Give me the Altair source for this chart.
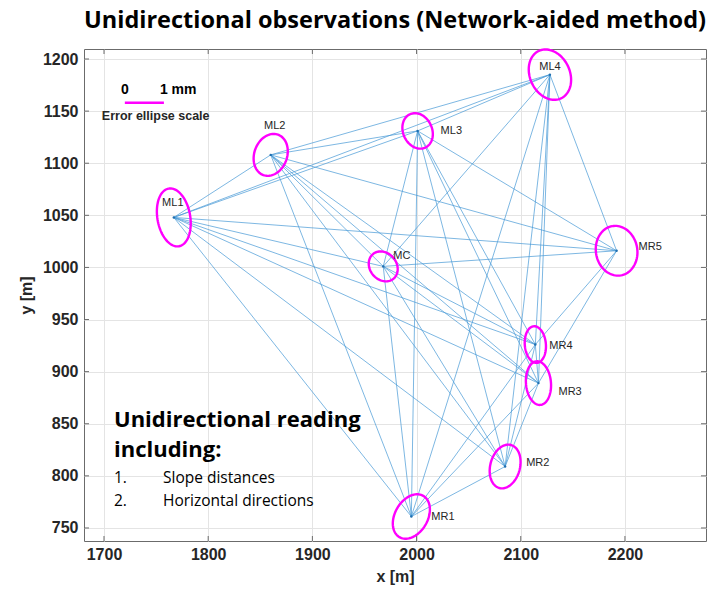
import itertools

import numpy as np
import pandas as pd
import altair as alt

# Control network stations (local grid, metres)
stations = ["ML1", "ML2", "ML3", "ML4", "MC", "MR5", "MR4", "MR3", "MR2", "MR1"]
east = [1767, 1860, 2001, 2128, 1968, 2192, 2114, 2117, 2085, 1995]
north = [1048, 1108, 1131, 1185, 1001, 1016, 926, 889, 809, 761]

# Error ellipses: semi-axes in mm, major-axis orientation in degrees from north
# (positive turns the top of the ellipse towards the west)
semi_major_mm = [0.75, 0.55, 0.47, 0.67, 0.41, 0.64, 0.47, 0.56, 0.57, 0.61]
semi_minor_mm = [0.42, 0.42, 0.37, 0.51, 0.34, 0.53, 0.27, 0.32, 0.38, 0.42]
orient_deg = [10, -20, 25, 25, 40, 10, 5, 5, -15, -30]

# Station pairs without an observation
not_observed = [("MR5", "MR2"), ("MR5", "MR1")]

# Plot metres per mm of ellipse size (error ellipse exaggeration)
ELLIPSE_SCALE = 37.5
SCALE_BAR_MM = 1
scale_bar_origin = (1720, 1158)

x_ticks = [1700, 1800, 1900, 2000, 2100, 2200]
y_ticks = [750, 800, 850, 900, 950, 1000, 1050, 1100, 1150, 1200]
x_domain = [1680.8, 2277.8]
y_domain = [737.5, 1209.6]

title_text = "Unidirectional observations (Network-aided method)"
note_head = ["Unidirectional reading", "including:"]
note_items = ["Slope distances", "Horizontal directions"]

W, H = 622, 492
TICK = 5
FRAME = "#6b6b6b"

# ---------------------------------------------------------------- tables
pos = {s: (e, n) for s, e, n in zip(stations, east, north)}
skip = {frozenset(p) for p in not_observed}
obs = pd.DataFrame(
    [
        {"x": pos[a][0], "y": pos[a][1], "x2": pos[b][0], "y2": pos[b][1]}
        for a, b in itertools.combinations(stations, 2)
        if frozenset((a, b)) not in skip
    ]
)

rows = []
t = np.linspace(0, 2 * np.pi, 91)
for s, a_mm, b_mm, ang in zip(stations, semi_major_mm, semi_minor_mm, orient_deg):
    a = a_mm * ELLIPSE_SCALE
    b = b_mm * ELLIPSE_SCALE
    th = np.radians(ang)
    # major axis unit vector (-sin, cos); minor axis (cos, sin)
    u = a * np.cos(t)
    v = b * np.sin(t)
    ex = pos[s][0] - u * np.sin(th) + v * np.cos(th)
    ey = pos[s][1] + u * np.cos(th) + v * np.sin(th)
    for i, (px, py) in enumerate(zip(ex, ey)):
        rows.append({"station": s, "i": i, "x": px, "y": py})
ellipses = pd.DataFrame(rows)

pts = pd.DataFrame({"station": stations, "x": east, "y": north})
xt = pd.DataFrame({"x": x_ticks})
yt = pd.DataFrame({"y": y_ticks})

# ---------------------------------------------------------------- layers
xs = alt.Scale(domain=x_domain, nice=False, zero=False)
ys = alt.Scale(domain=y_domain, nice=False, zero=False)
x_axis = alt.Axis(values=x_ticks, title="x [m]", format="d", labelPadding=5, titlePadding=6)
y_axis = alt.Axis(values=y_ticks, title="y [m]", format="d", labelPadding=6, titlePadding=8)

lines = alt.Chart(obs).mark_rule(color="#4a9bd6", strokeWidth=0.8, opacity=0.9).encode(
    x=alt.X("x:Q", scale=xs, axis=x_axis),
    y=alt.Y("y:Q", scale=ys, axis=y_axis),
    x2="x2:Q",
    y2="y2:Q",
)

# inward-pointing tick marks on all four sides of the box
tick_layers = [
    alt.Chart(xt).mark_rule(color=FRAME, strokeWidth=1).encode(
        x="x:Q", y=alt.value(H), y2=alt.value(H - TICK)),
    alt.Chart(xt).mark_rule(color=FRAME, strokeWidth=1).encode(
        x="x:Q", y=alt.value(0), y2=alt.value(TICK)),
    alt.Chart(yt).mark_rule(color=FRAME, strokeWidth=1).encode(
        y="y:Q", x=alt.value(0), x2=alt.value(TICK)),
    alt.Chart(yt).mark_rule(color=FRAME, strokeWidth=1).encode(
        y="y:Q", x=alt.value(W), x2=alt.value(W - TICK)),
]

ell = alt.Chart(ellipses).mark_line(color="#FF00FF", strokeWidth=2.4).encode(
    x="x:Q", y="y:Q", detail="station:N", order="i:Q"
)

dots = alt.Chart(pts).mark_point(filled=True, size=6, color="#1f6fb0", opacity=1).encode(
    x="x:Q", y="y:Q"
)

# station label placement: (dx, dy, align)
label_style = {
    "ML1": (-1, -14, "center"),
    "ML2": (4, -29, "center"),
    "ML3": (23, 0, "left"),
    "ML4": (0, -8, "center"),
    "MC": (10, -10, "left"),
    "MR5": (22, -4, "left"),
    "MR4": (14, 1, "left"),
    "MR3": (20, 9, "left"),
    "MR2": (21, -3, "left"),
    "MR1": (20, 0, "left"),
}
label_layers = []
for s in stations:
    dx, dy, al = label_style[s]
    label_layers.append(
        alt.Chart(pts[pts.station == s])
        .mark_text(dx=dx, dy=dy, align=al, baseline="middle", font="Liberation Sans",
                   fontSize=11, color="#262626")
        .encode(x="x:Q", y="y:Q", text="station:N")
    )

# error ellipse scale bar
bar = pd.DataFrame({
    "x": [scale_bar_origin[0]],
    "x2": [scale_bar_origin[0] + SCALE_BAR_MM * ELLIPSE_SCALE],
    "y": [scale_bar_origin[1]],
})
bar_rule = alt.Chart(bar).mark_rule(color="#FF00FF", strokeWidth=2.6).encode(
    x="x:Q", x2="x2:Q", y="y:Q"
)
bar_zero = alt.Chart(bar).mark_text(
    text="0", dy=-13, align="center", baseline="middle", font="Liberation Sans",
    fontWeight="bold", fontSize=14, color="black"
).encode(x="x:Q", y="y:Q")
bar_one = alt.Chart(bar).mark_text(
    text=f"{SCALE_BAR_MM} mm", dx=-4, dy=-13, align="left", baseline="middle",
    font="Liberation Sans", fontWeight="bold", fontSize=14, color="black"
).encode(x="x2:Q", y="y:Q")
bar_caption = alt.Chart(bar).mark_text(
    text="Error ellipse scale", dx=-23, dy=13, align="left", baseline="middle",
    font="Liberation Sans", fontWeight="bold", fontSize=12.5, color="#262626"
).encode(x="x:Q", y="y:Q")

# explanatory note inside the plot area
note_font = "Open Sans"
note_layers = [
    alt.Chart(pts.head(1)).mark_text(
        text=note_head[0], align="left", baseline="alphabetic", font=note_font,
        fontWeight="bold", fontSize=22, color="black"
    ).encode(x=alt.value(30), y=alt.value(378)),
    alt.Chart(pts.head(1)).mark_text(
        text=note_head[1], align="left", baseline="alphabetic", font=note_font,
        fontWeight="bold", fontSize=22, color="black"
    ).encode(x=alt.value(30), y=alt.value(408)),
]
for k, item in enumerate(note_items):
    yy = 434 + 22.5 * k
    note_layers.append(
        alt.Chart(pts.head(1)).mark_text(
            text=f"{k + 1}.", align="left", baseline="alphabetic", font=note_font,
            fontSize=15.5, color="black"
        ).encode(x=alt.value(30), y=alt.value(yy))
    )
    note_layers.append(
        alt.Chart(pts.head(1)).mark_text(
            text=item, align="left", baseline="alphabetic", font=note_font,
            fontSize=15.5, color="black"
        ).encode(x=alt.value(79), y=alt.value(yy))
    )

chart = (
    alt.layer(lines, *tick_layers, ell, dots, *label_layers, bar_rule, bar_zero, bar_one,
              bar_caption, *note_layers)
    .properties(
        width=W,
        height=H,
        padding={"left": 84, "top": 49, "right": 7, "bottom": 52},
        autosize=alt.AutoSizeParams(type="none"),
        title=alt.TitleParams(
            text=title_text, font=note_font, fontSize=23.5, fontWeight="bold",
            anchor="middle", offset=12, color="black",
        ),
    )
    .configure_view(stroke=FRAME, strokeWidth=1)
    .configure_axis(
        grid=True,
        gridColor="#e4e4e4",
        gridWidth=1,
        domain=False,
        ticks=False,
        labelFont="Liberation Sans",
        labelFontWeight="bold",
        labelFontSize=16,
        labelColor="#262626",
        titleFont="Liberation Sans",
        titleFontWeight="bold",
        titleFontSize=16,
        titleColor="#262626",
    )
)

chart.save("out.html", embed_options={"renderer": "svg", "actions": False})
